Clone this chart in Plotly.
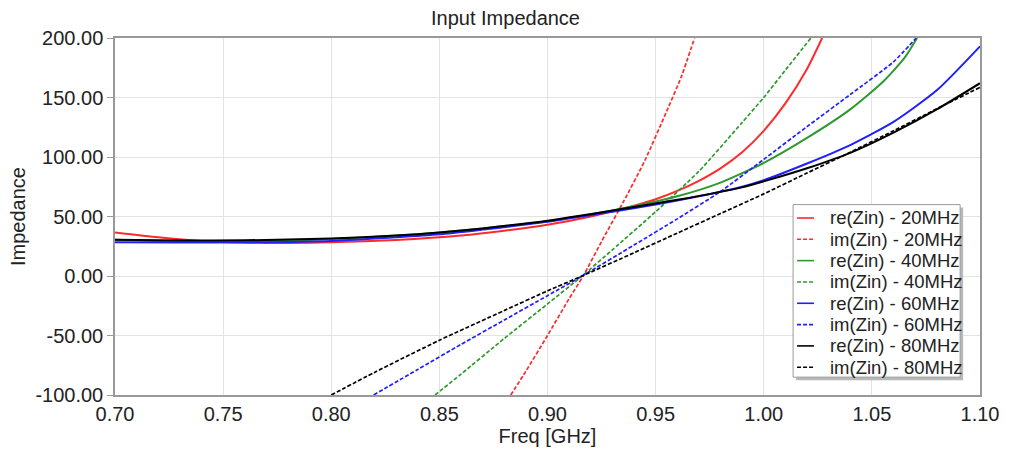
import plotly.graph_objects as go

# ---------------- data ----------------
f_re20 = [0.70, 0.72, 0.74, 0.76, 0.78, 0.80, 0.83, 0.86, 0.88, 0.90, 0.92, 0.94, 0.95, 0.96, 0.97, 0.98, 0.99, 1.00, 1.01, 1.02, 1.027]
y_re20 = [36.5, 32.5, 29.5, 28.0, 27.7, 28.3, 30.3, 34.0, 38.0, 43.0, 50.0, 59.0, 64.5, 71.5, 80.0, 90.5, 104.0, 122.0, 145.0, 174.0, 200.0]

f_im20 = [0.883, 0.89, 0.90, 0.91, 0.9165, 0.925, 0.935, 0.945, 0.955, 0.962, 0.968]
y_im20 = [-100, -80, -50, -19, 0, 29, 62, 97, 138, 168, 200]

f_re40 = [0.70, 0.72, 0.75, 0.78, 0.80, 0.83, 0.85, 0.87, 0.90, 0.93, 0.96, 0.98, 1.00, 1.02, 1.04, 1.055, 1.065, 1.0709]
y_re40 = [30.4, 29.5, 29.0, 29.7, 31.0, 34.0, 36.5, 40.0, 46.0, 55.0, 67.0, 78.5, 95.0, 116.0, 140.0, 163.0, 183.0, 200.0]

f_im40 = [0.848, 0.86, 0.88, 0.90, 0.916, 0.93, 0.95, 0.97, 0.99, 1.00, 1.01, 1.0218]
y_im40 = [-100, -82.5, -52.5, -23.5, 0, 22, 54, 88, 129, 150, 173, 200]

f_re60 = [0.70, 0.73, 0.76, 0.80, 0.83, 0.85, 0.87, 0.90, 0.93, 0.95, 0.97, 0.99, 1.00, 1.02, 1.04, 1.06, 1.08, 1.10]
y_re60 = [28.3, 28.2, 28.3, 29.5, 32.5, 35.0, 39.0, 45.5, 54.0, 60.0, 67.0, 75.0, 80.5, 94.5, 110.0, 129.5, 156.0, 193.0]

f_im60 = [0.8196, 0.84, 0.86, 0.88, 0.90, 0.916, 0.94, 0.96, 0.98, 1.00, 1.02, 1.04, 1.06, 1.0705]
y_im60 = [-100, -78.5, -57.5, -37, -16.5, 0, 26, 48, 71, 98, 125.5, 152.5, 180, 200]

f_re80 = [0.70, 0.73, 0.76, 0.80, 0.83, 0.85, 0.87, 0.90, 0.93, 0.96, 0.99, 1.00, 1.02, 1.04, 1.06, 1.08, 1.10]
y_re80 = [30.5, 29.8, 30.0, 31.5, 34.0, 36.5, 40.0, 46.5, 55.0, 64.0, 74.5, 79.5, 90.5, 103.5, 120.5, 140.0, 162.0]

f_im80 = [0.80, 0.82, 0.85, 0.88, 0.90, 0.916, 0.94, 0.96, 0.98, 1.00, 1.02, 1.04, 1.06, 1.08, 1.10]
y_im80 = [-100, -81, -54, -29, -12.5, 0, 19.5, 36, 52.5, 69, 86.5, 104, 122, 140.5, 158.5]

x_ticks = [0.70, 0.75, 0.80, 0.85, 0.90, 0.95, 1.00, 1.05, 1.10]
x_ticktext = ["0.70", "0.75", "0.80", "0.85", "0.90", "0.95", "1.00", "1.05", "1.10"]
y_ticks = [-100, -50, 0, 50, 100, 150, 200]
y_ticktext = ["-100.00", "-50.00", "0.00", "50.00", "100.00", "150.00", "200.00"]

series_names = ["re(Zin) - 20MHz", "im(Zin) - 20MHz", "re(Zin) - 40MHz", "im(Zin) - 40MHz",
                "re(Zin) - 60MHz", "im(Zin) - 60MHz", "re(Zin) - 80MHz", "im(Zin) - 80MHz"]
series_x = [f_re20, f_im20, f_re40, f_im40, f_re60, f_im60, f_re80, f_im80]
series_y = [y_re20, y_im20, y_re40, y_im40, y_re60, y_im60, y_re80, y_im80]
series_colors = ["#ff2a2a", "#ff2a2a", "#2e9a2e", "#2e9a2e", "#1f1fff", "#1f1fff", "#000000", "#000000"]
series_dashed = [False, True, False, True, False, True, False, True]

FONT = "Liberation Sans, Arial, sans-serif"
DASH = "4px,2px"

# plot area geometry (pixels)
W, H = 1011, 451
ML, MR, MT, MB = 115, 26, 38, 53
PW, PH = W - ML - MR, H - MT - MB


def px2x(px):
    return (px - ML) / PW


def py2y(py):
    return (H - MB - py) / PH


fig = go.Figure()
for name, xs, ys, col, dashed in zip(series_names, series_x, series_y, series_colors, series_dashed):
    fig.add_trace(go.Scatter(
        x=xs, y=ys, name=name, mode="lines", showlegend=False,
        line=dict(color=col, width=1.7 if dashed else 2,
                  dash=DASH if dashed else "solid", shape="spline", smoothing=0.6),
    ))

# ---- legend drawn manually (box with shadow, samples, text) ----
shapes = []
annotations = []
bx0, bx1, by0, by1 = 797, 965, 206, 380
shapes.append(dict(type="rect", xref="paper", yref="paper", layer="above",
                   x0=px2x(bx0 + 3), x1=px2x(bx1 + 3), y0=py2y(by1 + 3), y1=py2y(by0 + 3),
                   fillcolor="#b8b8b8", line=dict(width=0)))
shapes.append(dict(type="rect", xref="paper", yref="paper", layer="above",
                   x0=px2x(bx0), x1=px2x(bx1), y0=py2y(by1), y1=py2y(by0),
                   fillcolor="white", line=dict(color="#9a9a9a", width=1)))
for i, (name, col, dashed) in enumerate(zip(series_names, series_colors, series_dashed)):
    ry = 219.5 + i * 21.5
    shapes.append(dict(type="line", xref="paper", yref="paper", layer="above",
                       x0=px2x(801), x1=px2x(818), y0=py2y(ry), y1=py2y(ry),
                       line=dict(color=col, width=1.6, dash=DASH if dashed else "solid")))
    annotations.append(dict(text=name, xref="paper", yref="paper", x=px2x(832), y=py2y(ry),
                            xanchor="left", yanchor="middle", showarrow=False,
                            font=dict(size=18.5, color="#222", family=FONT)))

fig.update_layout(
    width=W, height=H,
    margin=dict(l=ML, r=MR, t=MT, b=MB),
    paper_bgcolor="white", plot_bgcolor="white",
    font=dict(family=FONT, color="#222", size=21),
    title=dict(text="Input Impedance", x=0.5, xref="container", xanchor="center",
               y=1 - 18 / H, yref="container", yanchor="middle", font=dict(size=20, color="#222")),
    showlegend=False,
    shapes=shapes,
    annotations=annotations,
)
fig.update_xaxes(
    range=[0.70, 1.10], tickvals=x_ticks, ticktext=x_ticktext,
    showgrid=True, gridcolor="#e3e3e3", gridwidth=1, zeroline=False,
    showline=True, linecolor="#999", linewidth=1.5, mirror=True,
    ticks="", tickfont=dict(size=20),
    title=dict(text="Freq [GHz]", font=dict(size=20), standoff=0),
)
fig.update_yaxes(
    range=[-100, 200], tickvals=y_ticks, ticktext=y_ticktext,
    showgrid=True, gridcolor="#e3e3e3", gridwidth=1, zeroline=False,
    showline=True, linecolor="#999", linewidth=1.5, mirror=True,
    ticks="outside", ticklen=6, tickcolor="#999", tickfont=dict(size=20),
    title=dict(text="Impedance", font=dict(size=20), standoff=4),
)

fig.write_html("out.html")
